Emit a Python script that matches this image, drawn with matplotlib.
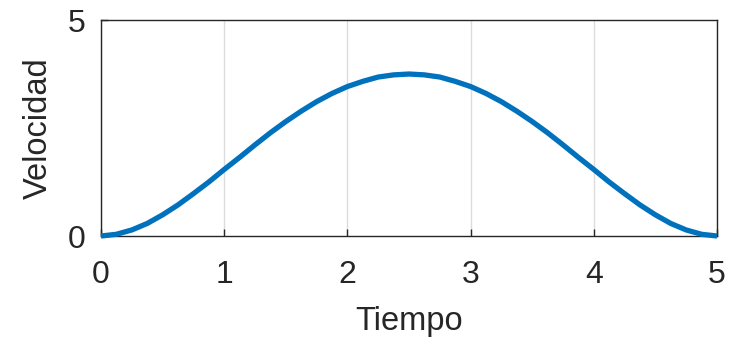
import matplotlib
matplotlib.use("Agg")
import matplotlib.pyplot as plt

plt.rcParams['font.family'] = ['Liberation Sans', 'DejaVu Sans']

# tiempo y velocidad
tiempo = [0, 0.125, 0.25, 0.375, 0.5, 0.625, 0.75, 0.875, 1.0, 1.125,
          1.25, 1.375, 1.5, 1.625, 1.75, 1.875, 2.0, 2.125, 2.25, 2.375,
          2.5, 2.625, 2.75, 2.875, 3.0, 3.125, 3.25, 3.375, 3.5, 3.625,
          3.75, 3.875, 4.0, 4.125, 4.25, 4.375, 4.5, 4.625, 4.75, 4.875, 5.0]
velocidad = [0, 0.04, 0.14, 0.29, 0.49, 0.72, 0.98, 1.25, 1.54, 1.82,
             2.11, 2.39, 2.65, 2.89, 3.11, 3.30, 3.46, 3.58, 3.68, 3.73,
             3.75, 3.73, 3.68, 3.58, 3.46, 3.30, 3.11, 2.89, 2.65, 2.39,
             2.11, 1.82, 1.54, 1.25, 0.98, 0.72, 0.49, 0.29, 0.14, 0.04, 0]
xticks = [0, 1, 2, 3, 4, 5]
yticks = [0, 5]

fig = plt.figure(figsize=(7.35, 3.41), dpi=100)
ax = fig.add_axes([0.1374, 0.3079, 0.8381, 0.6334])
ax.plot(tiempo, velocidad, color=(0, 0.447, 0.741), linewidth=3.8,
        solid_capstyle='butt', solid_joinstyle='round', clip_on=False, zorder=3)
ax.set_xlim(0, 5)
ax.set_ylim(0, 5)
ax.set_xticks(xticks)
ax.set_yticks(yticks)
ax.xaxis.grid(True, color='#dcdcdc', linewidth=1)
ax.set_axisbelow(True)
ax.tick_params(direction='in', length=5, width=1, labelsize=23,
               colors='#262626')
ax.tick_params(axis='x', pad=17)
ax.tick_params(axis='y', pad=11)
for s in ax.spines.values():
    s.set_color('#262626')
    s.set_linewidth(1)
ax.set_xlabel('Tiempo', fontsize=23.5, color='#262626', labelpad=12)
ax.set_ylabel('Velocidad', fontsize=23.5, color='#262626', labelpad=10)

fig.savefig('out.png', dpi=100)
